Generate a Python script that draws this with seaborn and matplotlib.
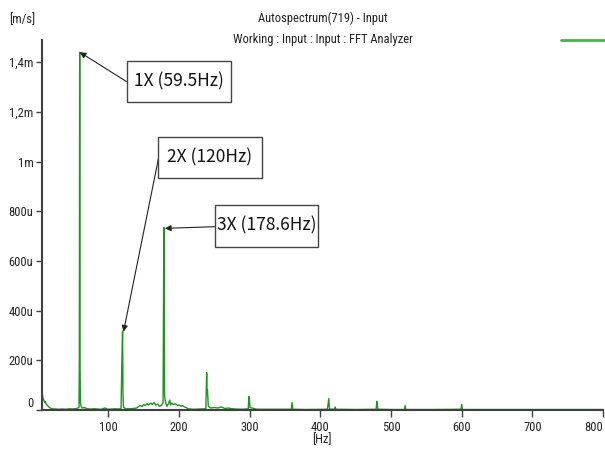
import numpy as np
import pandas as pd
import matplotlib
matplotlib.use("Agg")
import matplotlib.pyplot as plt
import matplotlib.transforms as mtransforms
from matplotlib import font_manager
from matplotlib.patches import Rectangle
from matplotlib.lines import Line2D
import seaborn as sns

# ---- data (frequency in Hz, amplitude in micro m/s) ----
freq_hz = [5.75, 6.5, 7, 8, 9, 10, 11, 12, 14, 16, 18, 20, 25, 30, 35, 40, 45, 50, 55,
           58.5, 59.0, 59.5, 60.0, 60.5, 61.5, 63, 66, 70, 75, 80, 85, 90, 95, 100, 105,
           110, 115, 118, 119.6, 120.2, 120.8, 121.5, 125, 130, 135, 140, 142, 145, 148,
           150, 152, 155, 157, 160, 162, 165, 167, 170, 172, 175, 177.5, 178.6, 179.1,
           179.6, 181, 183, 185, 187, 188, 190, 192, 195, 198, 200, 203, 205, 208, 210,
           213, 220, 230, 238, 239.2, 239.7, 240.3, 241.5, 245, 250, 255, 260, 265, 270,
           275, 280, 290, 298, 299, 299.6, 300.5, 310, 330, 359, 360, 361, 380, 410, 412,
           413, 420, 421, 422, 450, 479, 480, 481, 482, 500, 519, 520, 521, 560, 599, 600,
           601, 650, 700, 750, 800]
amp_u = [80, 70, 55, 45, 38, 30, 34, 24, 18, 12, 8, 5, 4, 3, 4, 3, 5, 4, 6,
         10, 190, 1440, 200, 30, 15, 8, 10, 5, 4, 5, 4, 3, 8, 3, 4,
         5, 4, 6, 255, 318, 60, 10, 5, 5, 6, 8, 12, 18, 14,
         22, 18, 25, 20, 28, 22, 30, 20, 24, 15, 18, 30, 735, 475,
         60, 30, 15, 25, 40, 20, 28, 22, 25, 18, 20, 15, 18, 12, 10,
         5, 3, 4, 5, 150, 66, 80, 15, 8, 10, 8, 12, 6, 8,
         5, 4, 3, 5, 54, 45, 10, 3, 3, 3, 30, 3, 2, 3, 46,
         4, 3, 12, 3, 2, 3, 35, 10, 3, 2, 2, 18, 2, 2, 3, 22,
         2, 2, 2, 2, 2]

ytick_vals_u = [0, 200, 400, 600, 800, 1000, 1200, 1400]
ytick_labels = ["0", "200u", "400u", "600u", "800u", "1m", "1,2m", "1,4m"]
xtick_vals = [100, 200, 300, 400, 500, 600, 700, 800]
xtick_labels = ["100", "200", "300", "400", "500", "600", "700", "800"]

peak_labels = ["1X (59.5Hz)", "2X (120Hz)", "3X (178.6Hz)"]
peak_tips = [(59.5, 1440e-6), (121.5, 315e-6), (180.0, 731e-6)]

df = pd.DataFrame({"freq": freq_hz, "amp": np.array(amp_u) * 1e-6})

sns.set_theme(style="white")

# pick a narrow font if one is installed
names = {f.name for f in font_manager.fontManager.ttflist}
narrow_family = None
stretch = "normal"
for cand in ["Liberation Sans Narrow", "DejaVu Sans Condensed", "Roboto Condensed",
             "Open Sans Condensed"]:
    if cand in names:
        narrow_family = cand
        break
if narrow_family is None:
    cond_dv = [f for f in font_manager.fontManager.ttflist
               if f.name == "DejaVu Sans" and str(f.stretch) == "condensed"]
    if cond_dv:
        narrow_family = "DejaVu Sans"
        stretch = "condensed"
if narrow_family is None:
    narrow_family = "Noto Sans CJK KR"
plt.rcParams["font.family"] = [narrow_family, "DejaVu Sans"]
plt.rcParams["font.stretch"] = stretch

W, H = 605, 453
fig = plt.figure(figsize=(W / 100, H / 100), dpi=100)
ax = fig.add_axes([41.7 / W, 1 - 410 / H, (603 - 41.7) / W, (410 - 40) / H])

sns.lineplot(data=df, x="freq", y="amp", ax=ax, color="#1f951f", lw=1.0,
             estimator=None, sort=True)

ax.set_xlim(5.75, 800)
ax.set_ylim(0, 1489e-6)

ax.set_yticks(np.array(ytick_vals_u) * 1e-6)
ax.set_yticklabels(ytick_labels)
ax.set_xticks(xtick_vals)
ax.set_xticklabels(xtick_labels)

for s in ["top", "right"]:
    ax.spines[s].set_visible(False)
for s in ["left", "bottom"]:
    ax.spines[s].set_color("#404040")
    ax.spines[s].set_linewidth(1.5)

ax.tick_params(axis="y", direction="out", length=4, width=1, color="#404040",
               labelsize=9, pad=2, left=True)
ax.tick_params(axis="x", direction="out", length=5, width=1, color="#404040",
               labelsize=9, pad=3, bottom=True)
for lab in ax.get_yticklabels() + ax.get_xticklabels():
    lab.set_color("#222222")
ax.get_xticklabels()[-1].set_ha("right")

# shift the "0" label slightly up
zero_lab = ax.get_yticklabels()[0]
zero_lab.set_transform(zero_lab.get_transform() +
                       mtransforms.ScaledTranslation(0, 8 / 100, fig.dpi_scale_trans))

ax.set_xlabel("[Hz]", fontsize=9, labelpad=-1, color="#222222")
ax.set_ylabel("")

fig.text(22 / W, 1 - 20 / H, "[m/s]", ha="center", va="center", fontsize=9,
         color="#222222")
fig.text(323 / W, 1 - 18 / H, "Autospectrum(719) - Input", ha="center",
         va="center", fontsize=9, color="#222222")
fig.text(323 / W, 1 - 40 / H, "Working : Input : Input : FFT Analyzer",
         ha="center", va="center", fontsize=9, color="#222222")

# legend line
fig.legend(handles=[Line2D([], [], color="#4caf50", lw=2)], labels=[""],
           loc="center right", bbox_to_anchor=(604 / W, 1 - 41 / H),
           frameon=False, handlelength=3.1, handletextpad=0, borderpad=0,
           borderaxespad=0, fontsize=10)

# annotation boxes (figure pixels from top-left: x0, x1, y0, y1)
boxes = [(126.7, 230.7, 60.7, 101.7), (158.3, 261.7, 136.7, 178.3),
         (215.0, 318.3, 205.0, 246.7)]
arrow_starts = [(126.7, H - 81.7), (158.3, H - 159.3), (215.0, H - 226.7)]
for lab, tip, bx, st in zip(peak_labels, peak_tips, boxes, arrow_starts):
    x0, x1, y0, y1 = bx
    fig.add_artist(Rectangle((x0 / W, 1 - y1 / H), (x1 - x0) / W, (y1 - y0) / H,
                             transform=fig.transFigure, fc="white", ec="#444444",
                             lw=1.0, zorder=5))
    ax.annotate("", xy=tip, xycoords="data", xytext=st, textcoords="figure pixels",
                arrowprops=dict(arrowstyle="-|>", color="#222222", lw=0.8,
                                mutation_scale=9, shrinkA=0, shrinkB=0))
    fig.text((x0 + x1) / 2 / W, 1 - (y0 + y1) / 2 / H, lab, ha="center",
             va="center", fontsize=12.5, family=["Noto Sans CJK KR", "DejaVu Sans"],
             color="#111111", zorder=6)

fig.savefig("out.png", dpi=100)
